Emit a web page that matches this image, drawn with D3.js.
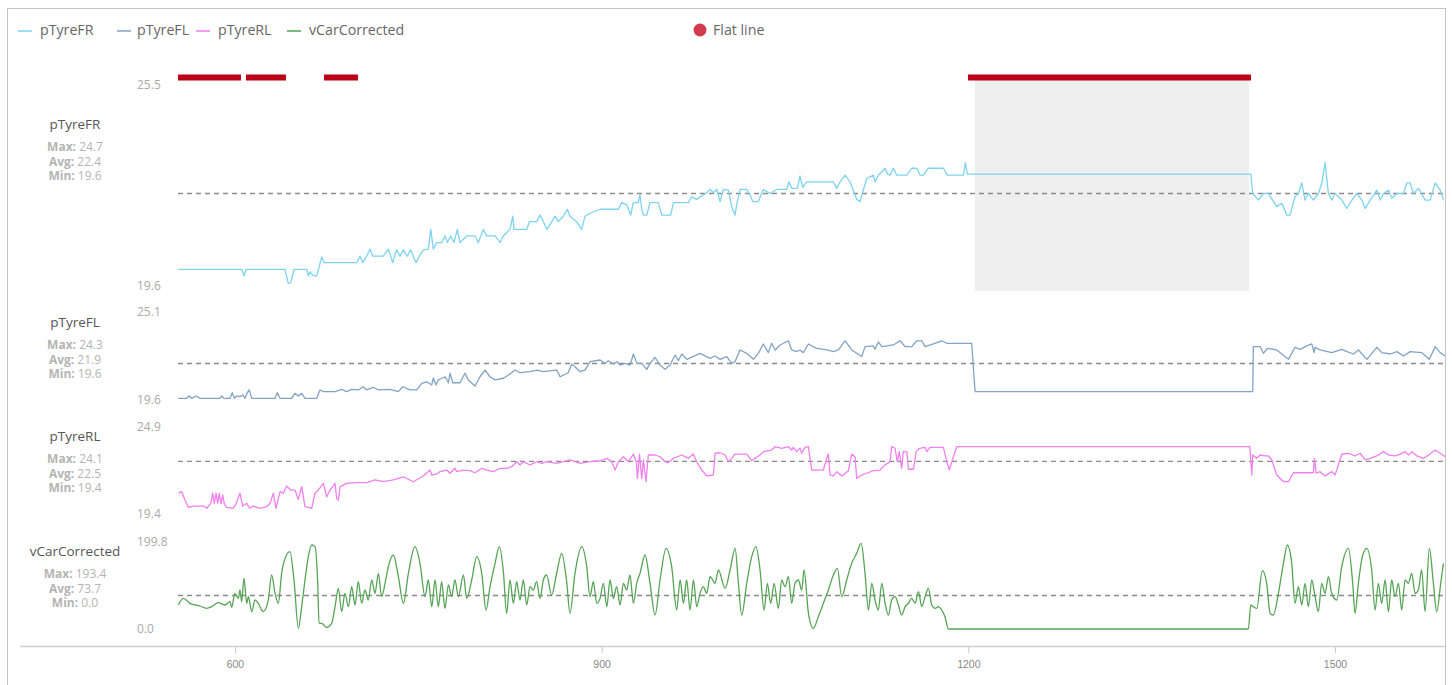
<!DOCTYPE html>
<html lang="en">
<head>
<meta charset="UTF-8"/>
<title>Tyre pressure flat line check</title>
<script src="https://d3js.org/d3.v7.min.js"></script>
<style>
  body { margin: 0; background: #fff; }
  svg { display: block; font-family: "Open Sans", "Noto Sans", sans-serif; }
  .legend text { font-size: 14.2px; fill: #666; }
  .ylab { font-size: 12px; fill: #aaa; }
  .name { font-size: 13.5px; fill: #555; }
  .stat { font-size: 12px; fill: #b4b4b4; }
  .xaxis text { font-size: 10.5px; fill: #888; }
  .xaxis line { stroke: #c8c8c8; }
</style>
</head>
<body>
<script>
var w = 1452, h = 685;

// ---- data ----
var seriesNames = ["pTyreFR", "pTyreFL", "pTyreRL", "vCarCorrected"];
var xTicks = [600, 900, 1200, 1500];
var yDomains = [[19.6, 25.5], [19.6, 25.1], [19.4, 24.9], [0, 199.8]];
var statMax = [24.7, 24.3, 24.1, 193.4];
var statAvg = [22.4, 21.9, 22.5, 73.7];
var statMin = [19.6, 19.6, 19.4, 0.0];
var flatSegments = [[553.4, 604.9], [609.0, 641.7], [672.8, 700.6], [1199.7, 1431.3]];
var flatHighlight = [1205.5, 1429.6];

var pTyreFR = [[553.6,20.33],[605.5,20.33],[607.4,20.15],[609,20.33],[640.9,20.33],[643.6,19.95],[645.6,19.96],[648.3,20.33],[658.7,20.33],[660,20.15],[661.4,20.26],[664.1,20.15],[666.9,20.15],[671,20.67],[672.9,20.51],[699.6,20.51],[702.3,20.69],[704.5,20.51],[707.8,20.69],[710.5,20.88],[712.7,20.69],[721.4,20.69],[725.5,20.88],[729.1,20.51],[732.3,20.86],[735,20.69],[737.7,20.86],[741,20.69],[743.8,20.86],[748.1,20.51],[750.8,20.69],[754.1,20.86],[758.2,20.88],[760.2,21.42],[762.3,20.88],[765.1,21.06],[769.2,21.06],[771.9,21.24],[773.8,21.06],[776.5,21.24],[779.2,21.06],[781.9,21.42],[784.1,21.06],[789.6,21.24],[796.4,21.24],[799.1,21.06],[803.2,21.42],[806,21.24],[812.8,21.24],[816.9,21.06],[819.6,21.24],[825,21.42],[827.3,21.78],[828.3,21.42],[838.7,21.42],[840.9,21.63],[846.9,21.63],[849.6,21.81],[852.3,21.63],[855.1,21.42],[859.2,21.63],[861.9,21.78],[864.6,21.63],[868.7,21.78],[871.9,21.97],[874.1,21.78],[879.6,21.63],[883.7,21.42],[886.4,21.78],[890.5,21.86],[898.7,21.97],
  [913.7,21.97],[916.4,22.15],[920.5,22.09],[923.8,21.81],[925.9,22.15],[930,22.15],[931.4,22.36],[932.8,21.97],[934.1,21.81],[936.9,21.81],[939.6,22.15],[946.4,22.15],[949.2,21.81],[956.5,21.81],[958.7,22.15],[970.9,22.15],[973.7,22.31],[977.8,22.24],[981.9,22.33],[986,22.42],[988.7,22.51],[991.4,22.42],[994.2,22.51],[996.9,22.18],[999.6,22.51],[1003.7,22.49],[1006.4,22.04],[1009.1,21.81],[1010.5,22.09],[1013.2,22.51],[1018.7,22.51],[1021.4,22.36],[1023.6,22.18],[1028.2,22.18],[1032.3,22.51],[1037.8,22.4],[1043.3,22.51],[1051.4,22.51],[1053.3,22.72],[1055.5,22.54],[1060.1,22.54],[1062.3,22.88],[1064.5,22.57],[1067.8,22.72],[1089.6,22.72],[1092.4,22.54],[1095.1,22.72],[1099.2,22.9],[1103.2,22.72],[1108.7,22.24],[1111.4,22.18],[1114.1,22.49],[1116.9,22.81],[1122.3,22.9],[1123.7,22.72],[1126.4,22.9],[1131.9,23.09],[1133.8,22.93],[1136,22.9],[1138.7,23.09],[1141.5,22.9],[1149.7,22.9],[1153.8,23.09],[1157.8,23.09],[1160.5,22.9],[1163.3,22.9],[1167.3,23.09],[1179.6,23.09],[1182.9,22.9],[1196,22.9],[1197.6,23.24],[1199.2,22.93],
  [1431.1,22.93],[1432.7,22.4],[1437.3,22.22],[1441.4,22.4],[1445.5,22.4],[1452.3,22.04],[1456.5,22.13],[1460.6,21.81],[1463.2,21.81],[1467.3,22.31],[1470.1,22.4],[1472.8,22.69],[1475.5,22.22],[1478.2,22.4],[1482.3,22.22],[1486.4,22.4],[1489.2,22.68],[1491.9,23.24],[1494.6,22.4],[1497.4,22.22],[1500.1,22.4],[1505.6,22.22],[1509.7,21.99],[1513.8,22.22],[1517.9,22.4],[1522,22.22],[1524.7,21.99],[1528.8,22.22],[1534.2,22.49],[1537,22.22],[1539.7,22.4],[1543.8,22.49],[1546.5,22.27],[1550.6,22.4],[1556,22.4],[1558.8,22.69],[1561.5,22.69],[1564.2,22.4],[1568.3,22.54],[1573.8,22.22],[1577.9,22.22],[1582,22.69],[1586.1,22.49],[1588.8,22.22]];

var pTyreFL = [[553.6,19.82],[560.5,19.82],[562.4,19.96],[564.6,19.82],[568.1,19.96],[571.4,19.82],[587.8,19.82],[589.2,19.96],[591,19.82],[596,19.82],[597.8,20.16],[599.5,19.82],[601.4,19.96],[604.1,19.92],[606.3,20.02],[608.2,19.82],[610.1,20.16],[611.7,20.32],[613.7,19.82],[632.8,19.82],[634.6,20.16],[636.9,19.82],[646.4,19.82],[649.1,20.12],[651.8,19.96],[654.6,20.12],[657.3,19.82],[666.9,19.82],[669.6,20.32],[672.3,20.22],[681.9,20.22],[687.3,20.36],[691.4,20.22],[695.5,20.36],[700.9,20.32],[705,20.51],[707.8,20.32],[713.2,20.48],[717.3,20.32],[726.9,20.36],[733.6,20.22],[737.3,20.51],[743.2,20.32],[748.7,20.32],[752.8,20.72],[756.9,20.81],[761,20.62],[762.3,21.02],[764.5,20.62],[766.4,20.92],[769.2,21.02],[771.9,21.11],[774.6,20.75],[776,21.32],[778.2,20.75],[784.1,20.75],[788.2,21.32],[790.9,20.92],[796.4,20.56],[800.5,21.11],[804.6,21.51],[808.7,21.11],[812.8,20.92],[819.6,21.02],[825,21.27],[829.1,21.51],[833.2,21.35],[841.4,21.41],[846.9,21.51],[852.3,21.41],[859.2,21.47],[863.3,21.51],[866,21.11],[872.7,21.35],[875.5,21.87],[878.2,21.71],[882.3,21.41],[886.4,21.51],[890.5,22.01],[898.7,22.11],
  [902.8,21.91],[905.5,22.07],[909.6,21.87],[912.4,22.01],[915.1,21.81],[919.2,21.91],[923.3,21.81],[926,22.47],[928.8,21.91],[932.8,21.91],[936.9,21.55],[939.6,21.91],[943.7,22.27],[947.8,21.81],[951.9,21.55],[956,21.81],[960.1,22.41],[962.8,22.07],[965.6,22.47],[969.7,22.15],[980.5,22.51],[988.7,22.21],[992.8,22.35],[996.9,22.15],[1002.4,22.31],[1006.4,21.91],[1009.1,22.01],[1013.2,22.71],[1018.7,22.51],[1024.2,22.15],[1028.2,22.51],[1032.3,23.07],[1036.4,22.55],[1039.1,23.11],[1041.9,22.71],[1046,23.01],[1052.8,23.26],[1055.5,22.71],[1059.6,22.61],[1062.3,22.71],[1065,22.55],[1069.1,23.07],[1076,22.81],[1084.2,22.71],[1089.6,22.61],[1093.7,22.71],[1099.2,23.26],[1104.6,22.71],[1108.7,22.51],[1112.8,22.31],[1115.5,22.91],[1122.3,22.95],[1123.7,22.75],[1126.4,23.2],[1129.2,22.91],[1138.7,23.01],[1144.2,23.26],[1148.3,22.91],[1153.8,22.91],[1157.8,23.26],[1161.9,23.26],[1164.6,22.91],[1171.4,23.07],[1178.3,23.26],[1182.4,23.11],[1202.8,23.11],[1205.5,20.22],
  [1432.7,20.22],[1433.2,22.91],[1438.7,22.91],[1441.4,22.51],[1444.7,22.81],[1452.3,22.71],[1461.9,22.15],[1467.3,22.87],[1471.6,22.75],[1475.5,22.91],[1481,23.07],[1482.9,22.55],[1483.7,22.87],[1487.8,22.71],[1497.4,22.55],[1505.6,22.75],[1509.7,22.61],[1515.1,22.47],[1519.2,22.71],[1526.1,22.15],[1534.2,22.87],[1538.3,22.55],[1545.2,22.47],[1550.6,22.61],[1556,22.35],[1561.5,22.61],[1571.1,22.55],[1577.2,22.15],[1582,22.91],[1586.1,22.55],[1590.1,22.35]];

var pTyreRL = [[553.6,20.51],[556.4,20.61],[559.1,20.09],[561.8,19.63],[565.9,19.71],[574.1,19.71],[576.9,19.57],[580.2,19.88],[581.8,20.51],[583.1,19.88],[584.5,20.51],[585.9,19.88],[587.2,20.51],[588.6,19.84],[590,20.4],[591.3,19.84],[593.2,19.63],[598.6,19.57],[600.9,19.84],[604.1,20.51],[606.3,19.71],[609.6,19.88],[612.3,19.57],[615,19.71],[620.5,19.57],[626,19.67],[628.7,19.88],[631.4,20.51],[633.6,19.57],[636.9,20.61],[639.6,20.51],[642.3,20.96],[645.6,20.71],[649.1,20.71],[651.8,20.13],[654.6,20.92],[657.3,19.67],[662.8,19.57],[665.5,20.51],[668.2,20.71],[672.3,21.13],[675.1,20.29],[677.8,20.71],[681.9,21.13],[683.2,20.19],[684.6,20.09],[686,20.92],[691.4,21.13],[699.6,21.17],[707.8,21.17],[714.6,21.34],[721.4,21.23],[729.6,21.34],[737.7,21.54],[745.9,21.23],[754.1,21.59],[759.6,21.96],[761,21.65],[765.1,21.71],[767.8,21.86],[773.3,21.96],[776,21.76],[780,22.07],[781.4,21.86],[786.8,21.96],[792.3,21.92],[796.4,21.79],[801.9,22.07],[806,21.96],[811.4,21.86],[816.9,22.07],[822.3,22.07],[826.4,22.17],[830.5,22.48],[833.2,22.28],[836,22.48],[841.4,22.28],[846.9,22.48],[851,22.38],[855.1,22.48],[863.3,22.38],[868.7,22.48],[874.1,22.59],[882.3,22.38],[890.5,22.48],[898.7,22.54],
  [904.2,22.69],[908.3,22.48],[911,21.96],[913.7,22.48],[917.8,22.79],[921.9,22.48],[926,22.96],[928.3,22.48],[929.3,21.44],[931,22.96],[932.8,21.44],[934.1,22.59],[936.3,21.23],[938.2,22.9],[943.7,22.9],[947.8,22.79],[951.9,22.48],[954.6,22.42],[958.7,22.69],[965.6,22.9],[971,22.69],[975,22.96],[977.8,22.48],[981.9,21.96],[986,21.59],[991.4,21.65],[992.8,23.01],[996.9,23.04],[1001,22.9],[1003.7,22.48],[1006.4,22.69],[1009.1,22.96],[1018.7,22.96],[1022.8,22.54],[1025.5,22.69],[1029.6,22.9],[1032.3,23.11],[1039.1,23.21],[1041.9,23.42],[1047.3,23.32],[1052.8,23.42],[1055.5,23.21],[1056.9,23.38],[1059.6,23.11],[1062.3,23.32],[1063.7,23.01],[1066.4,23.38],[1069.1,23.42],[1071.9,21.96],[1081.4,21.96],[1084.2,22.69],[1085.5,22.96],[1086.9,21.65],[1089.6,21.59],[1092.4,21.86],[1096.5,21.59],[1101.9,21.92],[1104.6,22.96],[1107.3,22.79],[1108.7,21.44],[1112.8,21.65],[1116.9,21.76],[1122.3,21.92],[1127.8,21.96],[1131.9,22.28],[1136,22.48],[1137.3,23.42],[1140.1,23.32],[1141.9,22.48],[1143.5,23.11],[1145.5,22.07],[1146.8,23.11],[1149.7,23.11],[1151,22.01],[1155.1,22.01],[1157.3,23.11],[1160,23.32],[1164.6,23.38],[1166,23.11],[1168.7,23.38],[1179.6,23.38],[1182.4,22.48],[1184.5,21.96],[1186.5,22.48],[1190.5,23.42],
  [1430.3,23.42],[1431.1,22.59],[1431.9,21.65],[1432.7,22.9],[1435.9,22.69],[1438.7,22.9],[1442.8,22.84],[1445.5,22.84],[1448.3,22.59],[1452.3,21.65],[1457.8,21.23],[1461.9,21.23],[1466,21.79],[1482.3,21.79],[1483.2,22.69],[1484.6,21.76],[1487.8,21.86],[1491.9,21.59],[1497.4,21.86],[1500.1,21.65],[1505.6,22.96],[1511,23.01],[1516.5,22.84],[1520.6,23.01],[1524.7,22.59],[1528.8,22.69],[1534.2,22.84],[1539.7,23.11],[1543.8,22.9],[1549.2,22.84],[1553.3,22.96],[1557.4,23.11],[1560.1,22.9],[1562.9,23.11],[1567,22.84],[1572.4,22.69],[1576.5,22.9],[1582,23.21],[1586.1,23.01],[1590.1,22.79]];

var vCarCorrected = [[553.7,52.7],[557.8,67.3],[563.2,56.3],[571.4,50.5],[576.8,45.4],[581,49],[586.4,57.8],[591.9,52.7],[596,60],[597.3,47.6],[600,78.3],[602.8,67.3],[604.1,85.6],[605.5,60],[607.4,111.2],[609.6,56.3],[611,71],[613.7,38.1],[616.4,63.7],[619.1,56.3],[623.2,38.1],[627.3,63.7],[630,118.6],[632.8,78.3],[635.5,56.3],[638.2,122.2],[641,155.1],[645,169.8],[648.3,107.6],[651.9,1.5],[654.6,49],[657.3,107.6],[660,158.8],[662.8,184.4],[665.5,180.8],[667.7,100.3],[668.8,12.4],[671,12.4],[675,3.7],[679.1,12.4],[681.9,49],[684.6,89.3],[687.3,38.1],[690,78.3],[692.8,49],[695.5,92.9],[698.2,52.7],[700.9,103.9],[703.7,56.3],[706.4,85.6],[709.1,63.7],[711.9,107.6],[714.6,78.3],[717.3,122.2],[720,71],[722.8,100.3],[725.5,136.8],[729.6,162.5],[733.7,114.9],[737.8,56.3],[741.9,122.2],[747.3,180.8],[751.4,144.2],[755.5,71],[758.2,107.6],[761,49],[763.7,107.6],[766.4,49],[769.1,103.9],[771.8,45.4],[774.6,96.6],[777.3,71],[780,107.6],[782.8,71],[786.9,118.6],[789.6,67.3],[793.7,107.6],[797.8,158.8],[801.9,122.2],[805.4,41.7],[808.7,92.9],[812.8,144.2],[816.3,180.8],[819.6,125.9],[822.3,34.4],[825,107.6],[827.8,56.3],[830.5,103.9],[833.2,63.7],[835.9,107.6],[838.7,52.7],[841.4,92.9],[844.1,85.6],[846.8,103.9],[849.6,67.3],[852.3,107.6],[855,118.6],[859.1,74.6],[863.2,122.2],[867.3,166.2],[871.4,103.9],[874.1,34.4],[878.2,122.2],[883.7,180.8],[887.8,136.8],[890.5,71],[893.2,103.9],[896,56.3],
  [898.7,67.3],[901.4,100.3],[904.2,49],[906.9,107.6],[909.6,67.3],[912.3,92.9],[915.1,52.7],[917.8,100.3],[920.5,85.6],[923.2,118.6],[926,56.3],[928.7,100.3],[931.4,122.2],[935.5,162.5],[939.6,100.3],[943.7,30.7],[947.8,107.6],[952.7,177.1],[957.3,136.8],[961.4,41.7],[964.2,107.6],[966.9,56.3],[969.6,107.6],[972.3,41.7],[975.1,107.6],[977.8,49],[980.5,78.3],[983.2,92.9],[986,78.3],[988.7,114.9],[992.8,100.3],[995.5,129.5],[1001,89.3],[1005.1,129.5],[1009.2,177.1],[1011.9,100.3],[1014.6,30.7],[1018.7,100.3],[1022.8,158.8],[1026.3,180.8],[1029.6,129.5],[1032.9,41.7],[1035.6,100.3],[1038.3,56.3],[1041.1,100.3],[1044.6,45.4],[1047.3,107.6],[1050.1,92.9],[1052.8,114.9],[1055.5,56.3],[1058.2,100.3],[1061,107.6],[1063.7,85.6],[1065.6,129.5],[1069.2,34.4],[1073.2,1.5],[1077.3,27.1],[1081.4,56.3],[1085.5,85.6],[1089.6,118.6],[1092.9,133.2],[1096.4,71],[1100.5,107.6],[1104.6,144.2],[1108.7,166.2],[1112.3,188.1],[1115.5,122.2],[1118.3,41.7],[1121,100.3],[1123.7,63.7],[1126.4,41.7],[1129.2,100.3],[1131.9,56.3],[1134.6,30.7],[1137.3,63.7],[1140.1,71],[1142.8,52.7],[1145.5,30.7],[1148.3,49],[1151,56.3],[1153.7,67.3],[1156.4,56.3],[1159.2,81.9],[1161.9,49],[1164.6,71],[1167.3,89.3],[1170.1,52.7],[1172.8,45.4],[1175.5,49],[1178.2,41.7],[1180.9,27.1],[1183.7,0],
  [1429.1,0],[1431.1,52.7],[1433.2,49],[1436,45.4],[1440.6,128],[1444.1,100.3],[1446.9,34.4],[1449.6,30.7],[1453.7,78.3],[1457.8,144.2],[1461,184.4],[1464.6,144.2],[1467.3,56.3],[1470,92.9],[1472.8,52.7],[1475.5,100.3],[1478.2,49],[1481,107.6],[1483.7,71],[1486.4,38.1],[1489.1,100.3],[1491.9,78.3],[1494.6,114.9],[1497.3,78.3],[1501.4,63.7],[1505.5,136.8],[1511,177.1],[1514.5,100.3],[1516.4,34.4],[1519.1,100.3],[1522.7,162.5],[1526,177.1],[1530,129.5],[1532.8,41.7],[1535.5,100.3],[1538.2,56.3],[1541,107.6],[1543.7,38.1],[1546.4,107.6],[1549.1,71],[1551.9,100.3],[1554.6,41.7],[1557.3,107.6],[1560,100.3],[1562.8,122.2],[1565.5,78.3],[1568.2,85.6],[1570.9,129.5],[1573.7,38.1],[1577.2,177.1],[1580.5,100.3],[1583.2,38.1],[1586.5,100.3],[1588.7,144.2]];

var seriesData = [pTyreFR, pTyreFL, pTyreRL, vCarCorrected];

// ---- layout / style ----
var colors = ["#7dd3f0", "#82a3c6", "#f27ff0", "#55a455"];
var legendX = [18, 117, 196, 287];
var legendTextX = [40, 137, 218, 309];
var plotLeft = 178, plotRight = 1445;
var panels = [
  { top: 80,  bottom: 296, topLab: 86,  botLab: 287, nameY: 125 },
  { top: 310, bottom: 402, topLab: 313, botLab: 401, nameY: 323 },
  { top: 423, bottom: 511, topLab: 428, botLab: 515, nameY: 437 },
  { top: 538, bottom: 629, topLab: 543, botLab: 630, nameY: 552 }
];

var svg = d3.select("body").append("svg")
  .attr("width", w)
  .attr("height", h);

// frame
svg.append("rect")
  .attr("x", 7.5).attr("y", 8.5)
  .attr("width", 1438).attr("height", 700)
  .attr("fill", "none")
  .attr("stroke", "#c4c4c4");

var xScale = d3.scaleLinear()
  .domain([553.4, 1590])
  .range([plotLeft, plotRight]);

// legend
var legend = svg.append("g").attr("class", "legend");
seriesNames.forEach(function(name, i) {
  legend.append("line")
    .attr("x1", legendX[i]).attr("x2", legendX[i] + 14)
    .attr("y1", 31).attr("y2", 31)
    .attr("stroke", colors[i])
    .attr("stroke-width", 1.5);
  legend.append("text")
    .attr("x", legendTextX[i]).attr("y", 31)
    .attr("dominant-baseline", "middle")
    .text(name);
});
legend.append("circle")
  .attr("cx", 700).attr("cy", 30).attr("r", 6.5)
  .attr("fill", "#d23b4e");
legend.append("text")
  .attr("x", 713).attr("y", 31)
  .attr("dominant-baseline", "middle")
  .text("Flat line");

// grey highlight of the flat section
svg.append("rect")
  .attr("x", xScale(flatHighlight[0]))
  .attr("width", xScale(flatHighlight[1]) - xScale(flatHighlight[0]))
  .attr("y", 80).attr("height", 211)
  .attr("fill", "#efefef");

// flat line bars
svg.selectAll("rect.flat")
  .data(flatSegments)
  .enter()
  .append("rect")
  .attr("class", "flat")
  .attr("x", function(d) { return xScale(d[0]); })
  .attr("width", function(d) { return xScale(d[1]) - xScale(d[0]); })
  .attr("y", 74.5)
  .attr("height", 6)
  .attr("fill", "#bb0016");

var defs = svg.append("defs");

panels.forEach(function(p, i) {
  var yScale = d3.scaleLinear()
    .domain(yDomains[i])
    .range([p.bottom, p.top]);

  defs.append("clipPath").attr("id", "clip" + i)
    .append("rect")
    .attr("x", plotLeft).attr("y", p.top - 10)
    .attr("width", plotRight - plotLeft)
    .attr("height", p.bottom - p.top + 14);

  var g = svg.append("g");

  // min / max labels
  g.append("text").attr("class", "ylab")
    .attr("x", 137).attr("y", p.topLab)
    .attr("dominant-baseline", "middle")
    .text(d3.format(".1f")(yDomains[i][1]));
  g.append("text").attr("class", "ylab")
    .attr("x", 137).attr("y", p.botLab)
    .attr("dominant-baseline", "middle")
    .text(d3.format(".1f")(yDomains[i][0]));

  // name and stats
  g.append("text").attr("class", "name")
    .attr("x", 75).attr("y", p.nameY)
    .attr("text-anchor", "middle")
    .attr("dominant-baseline", "middle")
    .text(seriesNames[i]);
  var stats = [["Max:", statMax[i]], ["Avg:", statAvg[i]], ["Min:", statMin[i]]];
  stats.forEach(function(s, k) {
    var t = g.append("text").attr("class", "stat")
      .attr("x", 75).attr("y", p.nameY + 23 + k * 14.5)
      .attr("text-anchor", "middle")
      .attr("dominant-baseline", "middle");
    t.append("tspan").attr("font-weight", "bold").text(s[0]);
    t.append("tspan").text(" " + d3.format(".1f")(s[1]));
  });

  // average dashed line
  g.append("line")
    .attr("x1", plotLeft).attr("x2", plotRight)
    .attr("y1", yScale(statAvg[i])).attr("y2", yScale(statAvg[i]))
    .attr("stroke", "#8a8a8a")
    .attr("stroke-width", 1.4)
    .attr("stroke-dasharray", "5,4");

  var line = d3.line()
    .x(function(d) { return xScale(d[0]); })
    .y(function(d) { return yScale(d[1]); })
    .curve(i === 3 ? d3.curveMonotoneX : d3.curveLinear);

  g.append("path")
    .datum(seriesData[i])
    .attr("clip-path", "url(#clip" + i + ")")
    .attr("d", line)
    .attr("fill", "none")
    .attr("stroke", colors[i])
    .attr("stroke-width", 1.3)
    .attr("stroke-linejoin", "round");
});

// x axis
svg.append("line")
  .attr("x1", 20).attr("x2", plotRight)
  .attr("y1", 646.5).attr("y2", 646.5)
  .attr("stroke", "#d0d0d0")
  .attr("stroke-width", 1.5);

var xAxis = d3.axisBottom(xScale)
  .tickValues(xTicks)
  .tickSize(6)
  .tickPadding(8)
  .tickFormat(d3.format("d"));

svg.append("g")
  .attr("class", "xaxis")
  .attr("transform", "translate(0," + 647 + ")")
  .call(xAxis)
  .call(function(g) { g.select(".domain").remove(); });
</script>
</body>
</html>
